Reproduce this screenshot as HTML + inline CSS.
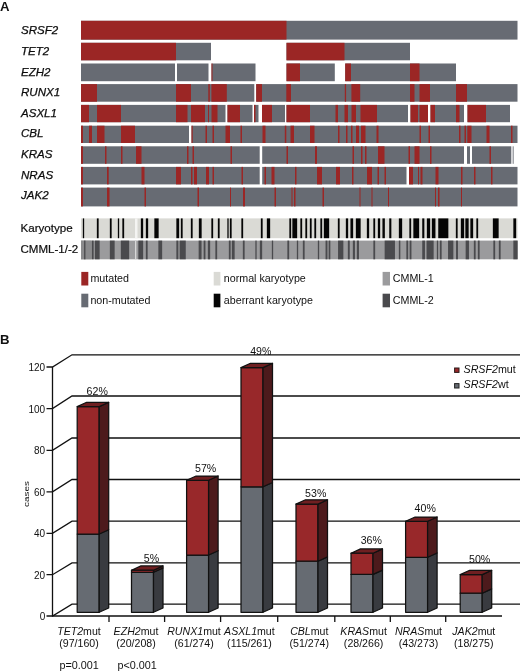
<!DOCTYPE html>
<html lang="en"><head><meta charset="utf-8"><title>Figure</title>
<style>
html,body{margin:0;padding:0;background:#fff}
svg{display:block;font-family:"Liberation Sans",sans-serif;fill:#111}
</style></head>
<body>
<svg width="520" height="671" viewBox="0 0 520 671">
<rect x="0" y="0" width="520" height="671" fill="#fff"/>
<g id="panelA">
<text x="0" y="10.6" font-size="13.2" text-anchor="start" font-weight="bold" >A</text>
<g class="row-SRSF2">
<rect x="81" y="20.8" width="436.5" height="18.8" fill="#676b73"/>
<rect x="81" y="20.8" width="205.5" height="18.8" fill="#9b2625"/>
<text x="21" y="34.3" font-size="11.55" text-anchor="start" font-style="italic" stroke="#000" stroke-width="0.25" >SRSF2</text>
</g>
<g class="row-TET2">
<rect x="81" y="42.8" width="130" height="17.5" fill="#676b73"/>
<rect x="286.5" y="42.8" width="123.5" height="17.5" fill="#676b73"/>
<rect x="81" y="42.8" width="95" height="17.5" fill="#9b2625"/>
<rect x="286.5" y="42.8" width="58" height="17.5" fill="#9b2625"/>
<text x="21" y="54.92" font-size="11.55" text-anchor="start" font-style="italic" stroke="#000" stroke-width="0.25" >TET2</text>
</g>
<g class="row-EZH2">
<rect x="81" y="63.5" width="94" height="17.7" fill="#676b73"/>
<rect x="177" y="63.5" width="31.5" height="17.7" fill="#676b73"/>
<rect x="211.5" y="63.5" width="44" height="17.7" fill="#676b73"/>
<rect x="286.5" y="63.5" width="48.3" height="17.7" fill="#676b73"/>
<rect x="345.2" y="63.5" width="110.8" height="17.7" fill="#676b73"/>
<rect x="211.5" y="63.5" width="1" height="17.7" fill="#9b2625"/>
<rect x="286.5" y="63.5" width="13.5" height="17.7" fill="#9b2625"/>
<rect x="345.2" y="63.5" width="5.8" height="17.7" fill="#9b2625"/>
<rect x="410" y="63.5" width="9.5" height="17.7" fill="#9b2625"/>
<text x="21" y="75.54" font-size="11.55" text-anchor="start" font-style="italic" stroke="#000" stroke-width="0.25" >EZH2</text>
</g>
<g class="row-RUNX1">
<rect x="81" y="84.1" width="173.3" height="17.6" fill="#676b73"/>
<rect x="256.2" y="84.1" width="261.3" height="17.6" fill="#676b73"/>
<rect x="81" y="84.1" width="16" height="17.6" fill="#9b2625"/>
<rect x="176" y="84.1" width="15" height="17.6" fill="#9b2625"/>
<rect x="208.3" y="84.1" width="1.5" height="17.6" fill="#9b2625"/>
<rect x="211.4" y="84.1" width="15.4" height="17.6" fill="#9b2625"/>
<rect x="256.2" y="84.1" width="5.8" height="17.6" fill="#9b2625"/>
<rect x="286.3" y="84.1" width="4.7" height="17.6" fill="#9b2625"/>
<rect x="344.8" y="84.1" width="1.3" height="17.6" fill="#9b2625"/>
<rect x="351.4" y="84.1" width="8.8" height="17.6" fill="#9b2625"/>
<rect x="410" y="84.1" width="4.5" height="17.6" fill="#9b2625"/>
<rect x="419.5" y="84.1" width="10.5" height="17.6" fill="#9b2625"/>
<rect x="456" y="84.1" width="11" height="17.6" fill="#9b2625"/>
<text x="21" y="96.16" font-size="11.55" text-anchor="start" font-style="italic" stroke="#000" stroke-width="0.25" >RUNX1</text>
</g>
<g class="row-ASXL1">
<rect x="81" y="104.9" width="144.5" height="17.3" fill="#676b73"/>
<rect x="227.5" y="104.9" width="25" height="17.3" fill="#676b73"/>
<rect x="254" y="104.9" width="4.5" height="17.3" fill="#676b73"/>
<rect x="262" y="104.9" width="23" height="17.3" fill="#676b73"/>
<rect x="286.5" y="104.9" width="121.5" height="17.3" fill="#676b73"/>
<rect x="410.5" y="104.9" width="17.5" height="17.3" fill="#676b73"/>
<rect x="430.5" y="104.9" width="33.5" height="17.3" fill="#676b73"/>
<rect x="467.5" y="104.9" width="42.5" height="17.3" fill="#676b73"/>
<rect x="81" y="104.9" width="8" height="17.3" fill="#9b2625"/>
<rect x="97" y="104.9" width="24" height="17.3" fill="#9b2625"/>
<rect x="176" y="104.9" width="11.5" height="17.3" fill="#9b2625"/>
<rect x="191" y="104.9" width="14" height="17.3" fill="#9b2625"/>
<rect x="208" y="104.9" width="1" height="17.3" fill="#9b2625"/>
<rect x="211.5" y="104.9" width="6" height="17.3" fill="#9b2625"/>
<rect x="227.5" y="104.9" width="12.5" height="17.3" fill="#9b2625"/>
<rect x="254" y="104.9" width="1.5" height="17.3" fill="#9b2625"/>
<rect x="262" y="104.9" width="10" height="17.3" fill="#9b2625"/>
<rect x="286.5" y="104.9" width="23.5" height="17.3" fill="#9b2625"/>
<rect x="335.5" y="104.9" width="2.5" height="17.3" fill="#9b2625"/>
<rect x="344.5" y="104.9" width="3.5" height="17.3" fill="#9b2625"/>
<rect x="351.5" y="104.9" width="4.5" height="17.3" fill="#9b2625"/>
<rect x="360.5" y="104.9" width="16.5" height="17.3" fill="#9b2625"/>
<rect x="410.5" y="104.9" width="7.5" height="17.3" fill="#9b2625"/>
<rect x="419.5" y="104.9" width="8.5" height="17.3" fill="#9b2625"/>
<rect x="430.5" y="104.9" width="4.5" height="17.3" fill="#9b2625"/>
<rect x="456" y="104.9" width="3.5" height="17.3" fill="#9b2625"/>
<rect x="467.5" y="104.9" width="18.5" height="17.3" fill="#9b2625"/>
<text x="21" y="116.78" font-size="11.55" text-anchor="start" font-style="italic" stroke="#000" stroke-width="0.25" >ASXL1</text>
</g>
<g class="row-CBL">
<rect x="81" y="125.7" width="108" height="17.3" fill="#676b73"/>
<rect x="191.5" y="125.7" width="326" height="17.3" fill="#676b73"/>
<rect x="81" y="125.7" width="2" height="17.3" fill="#9b2625"/>
<rect x="89" y="125.7" width="3" height="17.3" fill="#9b2625"/>
<rect x="97" y="125.7" width="7.5" height="17.3" fill="#9b2625"/>
<rect x="121" y="125.7" width="14" height="17.3" fill="#9b2625"/>
<rect x="191.5" y="125.7" width="1.2" height="17.3" fill="#9b2625"/>
<rect x="205.5" y="125.7" width="1.5" height="17.3" fill="#9b2625"/>
<rect x="212.5" y="125.7" width="1.5" height="17.3" fill="#9b2625"/>
<rect x="225.5" y="125.7" width="4.5" height="17.3" fill="#9b2625"/>
<rect x="240.5" y="125.7" width="1.5" height="17.3" fill="#9b2625"/>
<rect x="262.5" y="125.7" width="3" height="17.3" fill="#9b2625"/>
<rect x="284.8" y="125.7" width="1.5" height="17.3" fill="#9b2625"/>
<rect x="290.5" y="125.7" width="3.5" height="17.3" fill="#9b2625"/>
<rect x="310" y="125.7" width="4.5" height="17.3" fill="#9b2625"/>
<rect x="338" y="125.7" width="1.5" height="17.3" fill="#9b2625"/>
<rect x="346" y="125.7" width="1.5" height="17.3" fill="#9b2625"/>
<rect x="351" y="125.7" width="1.5" height="17.3" fill="#9b2625"/>
<rect x="356" y="125.7" width="3" height="17.3" fill="#9b2625"/>
<rect x="361" y="125.7" width="4.5" height="17.3" fill="#9b2625"/>
<rect x="376.5" y="125.7" width="2" height="17.3" fill="#9b2625"/>
<rect x="419.5" y="125.7" width="1.5" height="17.3" fill="#9b2625"/>
<rect x="428.5" y="125.7" width="1.5" height="17.3" fill="#9b2625"/>
<rect x="459" y="125.7" width="1.5" height="17.3" fill="#9b2625"/>
<rect x="464.5" y="125.7" width="1.5" height="17.3" fill="#9b2625"/>
<rect x="467.3" y="125.7" width="4.2" height="17.3" fill="#9b2625"/>
<rect x="486.5" y="125.7" width="3" height="17.3" fill="#9b2625"/>
<rect x="511" y="125.7" width="1.5" height="17.3" fill="#9b2625"/>
<text x="21" y="137.4" font-size="11.55" text-anchor="start" font-style="italic" stroke="#000" stroke-width="0.25" >CBL</text>
</g>
<g class="row-KRAS">
<rect x="81" y="146.3" width="178.7" height="17.5" fill="#676b73"/>
<rect x="262.2" y="146.3" width="201.8" height="17.5" fill="#676b73"/>
<rect x="467" y="146.3" width="3" height="17.5" fill="#676b73"/>
<rect x="472" y="146.3" width="39.3" height="17.5" fill="#676b73"/>
<rect x="512.7" y="146.3" width="0.9" height="17.5" fill="#676b73"/>
<rect x="81" y="146.3" width="2" height="17.5" fill="#9b2625"/>
<rect x="105" y="146.3" width="1.5" height="17.5" fill="#9b2625"/>
<rect x="121" y="146.3" width="1.5" height="17.5" fill="#9b2625"/>
<rect x="136" y="146.3" width="5.5" height="17.5" fill="#9b2625"/>
<rect x="187" y="146.3" width="1.5" height="17.5" fill="#9b2625"/>
<rect x="192.5" y="146.3" width="1.5" height="17.5" fill="#9b2625"/>
<rect x="230.5" y="146.3" width="1.5" height="17.5" fill="#9b2625"/>
<rect x="286.5" y="146.3" width="1.5" height="17.5" fill="#9b2625"/>
<rect x="315" y="146.3" width="2" height="17.5" fill="#9b2625"/>
<rect x="352.5" y="146.3" width="1.5" height="17.5" fill="#9b2625"/>
<rect x="361" y="146.3" width="1.5" height="17.5" fill="#9b2625"/>
<rect x="365" y="146.3" width="1.5" height="17.5" fill="#9b2625"/>
<rect x="378" y="146.3" width="6.5" height="17.5" fill="#9b2625"/>
<rect x="408.5" y="146.3" width="1.5" height="17.5" fill="#9b2625"/>
<rect x="414.5" y="146.3" width="5" height="17.5" fill="#9b2625"/>
<rect x="430" y="146.3" width="1.5" height="17.5" fill="#9b2625"/>
<rect x="489.5" y="146.3" width="1.5" height="17.5" fill="#9b2625"/>
<text x="21" y="158.02" font-size="11.55" text-anchor="start" font-style="italic" stroke="#000" stroke-width="0.25" >KRAS</text>
</g>
<g class="row-NRAS">
<rect x="81" y="166.9" width="178.7" height="17.5" fill="#676b73"/>
<rect x="262.2" y="166.9" width="144.3" height="17.5" fill="#676b73"/>
<rect x="409" y="166.9" width="108.5" height="17.5" fill="#676b73"/>
<rect x="81" y="166.9" width="2" height="17.5" fill="#9b2625"/>
<rect x="107" y="166.9" width="1.7" height="17.5" fill="#9b2625"/>
<rect x="141.5" y="166.9" width="3" height="17.5" fill="#9b2625"/>
<rect x="176" y="166.9" width="5" height="17.5" fill="#9b2625"/>
<rect x="191" y="166.9" width="1.5" height="17.5" fill="#9b2625"/>
<rect x="194" y="166.9" width="3" height="17.5" fill="#9b2625"/>
<rect x="206" y="166.9" width="3" height="17.5" fill="#9b2625"/>
<rect x="212.5" y="166.9" width="1.5" height="17.5" fill="#9b2625"/>
<rect x="241.5" y="166.9" width="1.5" height="17.5" fill="#9b2625"/>
<rect x="264.5" y="166.9" width="1.5" height="17.5" fill="#9b2625"/>
<rect x="271.5" y="166.9" width="3" height="17.5" fill="#9b2625"/>
<rect x="295" y="166.9" width="1.5" height="17.5" fill="#9b2625"/>
<rect x="317" y="166.9" width="5" height="17.5" fill="#9b2625"/>
<rect x="336" y="166.9" width="4" height="17.5" fill="#9b2625"/>
<rect x="352" y="166.9" width="1.5" height="17.5" fill="#9b2625"/>
<rect x="367" y="166.9" width="5" height="17.5" fill="#9b2625"/>
<rect x="377.5" y="166.9" width="1.5" height="17.5" fill="#9b2625"/>
<rect x="384.5" y="166.9" width="1.5" height="17.5" fill="#9b2625"/>
<rect x="409" y="166.9" width="4" height="17.5" fill="#9b2625"/>
<rect x="418" y="166.9" width="1" height="17.5" fill="#9b2625"/>
<rect x="420.5" y="166.9" width="2" height="17.5" fill="#9b2625"/>
<rect x="435.5" y="166.9" width="3" height="17.5" fill="#9b2625"/>
<rect x="461" y="166.9" width="1.5" height="17.5" fill="#9b2625"/>
<rect x="474" y="166.9" width="1.5" height="17.5" fill="#9b2625"/>
<rect x="491" y="166.9" width="1.5" height="17.5" fill="#9b2625"/>
<text x="21" y="178.64" font-size="11.55" text-anchor="start" font-style="italic" stroke="#000" stroke-width="0.25" >NRAS</text>
</g>
<g class="row-JAK2">
<rect x="81" y="187.6" width="436.5" height="18.8" fill="#676b73"/>
<rect x="81" y="187.6" width="2" height="18.8" fill="#9b2625"/>
<rect x="107" y="187.6" width="2.5" height="18.8" fill="#9b2625"/>
<rect x="144.5" y="187.6" width="1.5" height="18.8" fill="#9b2625"/>
<rect x="197.5" y="187.6" width="1.5" height="18.8" fill="#9b2625"/>
<rect x="230" y="187.6" width="1" height="18.8" fill="#9b2625"/>
<rect x="243" y="187.6" width="2" height="18.8" fill="#9b2625"/>
<rect x="274.5" y="187.6" width="1.5" height="18.8" fill="#9b2625"/>
<rect x="291.5" y="187.6" width="1" height="18.8" fill="#9b2625"/>
<rect x="294" y="187.6" width="1.5" height="18.8" fill="#9b2625"/>
<rect x="322.5" y="187.6" width="1.5" height="18.8" fill="#9b2625"/>
<rect x="359.5" y="187.6" width="1" height="18.8" fill="#9b2625"/>
<rect x="371.5" y="187.6" width="1" height="18.8" fill="#9b2625"/>
<rect x="388" y="187.6" width="1" height="18.8" fill="#9b2625"/>
<rect x="435" y="187.6" width="1" height="18.8" fill="#9b2625"/>
<rect x="438" y="187.6" width="1.5" height="18.8" fill="#9b2625"/>
<rect x="461" y="187.6" width="1" height="18.8" fill="#9b2625"/>
<text x="21" y="199.26" font-size="11.55" text-anchor="start" font-style="italic" stroke="#000" stroke-width="0.25" >JAK2</text>
</g>
<g class="kary">
<rect x="81" y="218.4" width="436.5" height="19.8" fill="#dadad5"/>
<rect x="135" y="218.4" width="2.5" height="19.8" fill="#f4f4f2"/>
<rect x="82.85" y="218.4" width="1.3" height="19.8" fill="#050505"/>
<rect x="96.85" y="218.4" width="1.8" height="19.8" fill="#050505"/>
<rect x="109.85" y="218.4" width="1.8" height="19.8" fill="#050505"/>
<rect x="117.85" y="218.4" width="1.3" height="19.8" fill="#050505"/>
<rect x="122.35" y="218.4" width="1.8" height="19.8" fill="#050505"/>
<rect x="140.85" y="218.4" width="2.3" height="19.8" fill="#050505"/>
<rect x="145.85" y="218.4" width="2.3" height="19.8" fill="#050505"/>
<rect x="154.35" y="218.4" width="4.3" height="19.8" fill="#050505"/>
<rect x="176.35" y="218.4" width="2.8" height="19.8" fill="#050505"/>
<rect x="180.85" y="218.4" width="1.8" height="19.8" fill="#050505"/>
<rect x="190.85" y="218.4" width="1.8" height="19.8" fill="#050505"/>
<rect x="198.85" y="218.4" width="2.8" height="19.8" fill="#050505"/>
<rect x="211.35" y="218.4" width="1.8" height="19.8" fill="#050505"/>
<rect x="217.85" y="218.4" width="1.8" height="19.8" fill="#050505"/>
<rect x="227.35" y="218.4" width="1.3" height="19.8" fill="#050505"/>
<rect x="229.85" y="218.4" width="1.8" height="19.8" fill="#050505"/>
<rect x="241.35" y="218.4" width="1.8" height="19.8" fill="#050505"/>
<rect x="260.85" y="218.4" width="1.8" height="19.8" fill="#050505"/>
<rect x="266.85" y="218.4" width="3.3" height="19.8" fill="#050505"/>
<rect x="289.35" y="218.4" width="1.8" height="19.8" fill="#050505"/>
<rect x="292.35" y="218.4" width="4.8" height="19.8" fill="#050505"/>
<rect x="300.35" y="218.4" width="1.8" height="19.8" fill="#050505"/>
<rect x="305.35" y="218.4" width="1.8" height="19.8" fill="#050505"/>
<rect x="309.85" y="218.4" width="1.8" height="19.8" fill="#050505"/>
<rect x="314.35" y="218.4" width="1.8" height="19.8" fill="#050505"/>
<rect x="320.35" y="218.4" width="1.8" height="19.8" fill="#050505"/>
<rect x="323.85" y="218.4" width="5.3" height="19.8" fill="#050505"/>
<rect x="337.85" y="218.4" width="1.8" height="19.8" fill="#050505"/>
<rect x="345.85" y="218.4" width="2.3" height="19.8" fill="#050505"/>
<rect x="350.45" y="218.4" width="2.7" height="19.8" fill="#050505"/>
<rect x="355.85" y="218.4" width="4.8" height="19.8" fill="#050505"/>
<rect x="366.85" y="218.4" width="2.3" height="19.8" fill="#050505"/>
<rect x="373.35" y="218.4" width="1.8" height="19.8" fill="#050505"/>
<rect x="377.85" y="218.4" width="2.3" height="19.8" fill="#050505"/>
<rect x="382.45" y="218.4" width="2.4" height="19.8" fill="#050505"/>
<rect x="389.25" y="218.4" width="2.1" height="19.8" fill="#050505"/>
<rect x="398.85" y="218.4" width="3.3" height="19.8" fill="#050505"/>
<rect x="409.35" y="218.4" width="1.8" height="19.8" fill="#050505"/>
<rect x="413.35" y="218.4" width="5.8" height="19.8" fill="#050505"/>
<rect x="422.25" y="218.4" width="2.1" height="19.8" fill="#050505"/>
<rect x="426.85" y="218.4" width="3.3" height="19.8" fill="#050505"/>
<rect x="431.85" y="218.4" width="3.6" height="19.8" fill="#050505"/>
<rect x="438.25" y="218.4" width="10.1" height="19.8" fill="#050505"/>
<rect x="455.85" y="218.4" width="1.8" height="19.8" fill="#050505"/>
<rect x="460.85" y="218.4" width="3.3" height="19.8" fill="#050505"/>
<rect x="465.35" y="218.4" width="3.3" height="19.8" fill="#050505"/>
<rect x="470.35" y="218.4" width="2.8" height="19.8" fill="#050505"/>
<rect x="476.35" y="218.4" width="1.8" height="19.8" fill="#050505"/>
<rect x="492.85" y="218.4" width="5.8" height="19.8" fill="#050505"/>
<rect x="513.35" y="218.4" width="2.8" height="19.8" fill="#050505"/>
<text x="20.5" y="231.8" font-size="11.6" text-anchor="start" stroke="#000" stroke-width="0.2" >Karyotype</text>
</g>
<g class="cmml">
<rect x="81" y="240.6" width="436.5" height="18.7" fill="#9b9b9d"/>
<rect x="135" y="240.6" width="1.3" height="18.7" fill="#d8d8d8"/>
<rect x="81" y="240.6" width="10.5" height="18.7" fill="#8a8a8c"/>
<rect x="84" y="240.6" width="1.5" height="18.7" fill="#505053"/>
<rect x="91.85" y="240.6" width="1.8" height="18.7" fill="#4a4a4d"/>
<rect x="94.85" y="240.6" width="4.8" height="18.7" fill="#4a4a4d"/>
<rect x="109.85" y="240.6" width="4.8" height="18.7" fill="#4a4a4d"/>
<rect x="120.85" y="240.6" width="8.3" height="18.7" fill="#4a4a4d"/>
<rect x="138.35" y="240.6" width="4.8" height="18.7" fill="#4a4a4d"/>
<rect x="145.85" y="240.6" width="1.8" height="18.7" fill="#4a4a4d"/>
<rect x="158.35" y="240.6" width="3.8" height="18.7" fill="#4a4a4d"/>
<rect x="176.35" y="240.6" width="2" height="18.7" fill="#4a4a4d"/>
<rect x="179.65" y="240.6" width="6.1" height="18.7" fill="#4a4a4d"/>
<rect x="198.65" y="240.6" width="2.9" height="18.7" fill="#4a4a4d"/>
<rect x="203.65" y="240.6" width="1.8" height="18.7" fill="#4a4a4d"/>
<rect x="207.85" y="240.6" width="2.3" height="18.7" fill="#4a4a4d"/>
<rect x="215.35" y="240.6" width="1.8" height="18.7" fill="#4a4a4d"/>
<rect x="228.85" y="240.6" width="1.8" height="18.7" fill="#4a4a4d"/>
<rect x="231.85" y="240.6" width="2.8" height="18.7" fill="#4a4a4d"/>
<rect x="242.85" y="240.6" width="1.8" height="18.7" fill="#4a4a4d"/>
<rect x="255.35" y="240.6" width="1.3" height="18.7" fill="#4a4a4d"/>
<rect x="259.85" y="240.6" width="2.3" height="18.7" fill="#4a4a4d"/>
<rect x="271.85" y="240.6" width="1.3" height="18.7" fill="#4a4a4d"/>
<rect x="287.35" y="240.6" width="1.8" height="18.7" fill="#4a4a4d"/>
<rect x="296.85" y="240.6" width="1.3" height="18.7" fill="#4a4a4d"/>
<rect x="302.85" y="240.6" width="1.8" height="18.7" fill="#4a4a4d"/>
<rect x="317.85" y="240.6" width="1.3" height="18.7" fill="#4a4a4d"/>
<rect x="325.55" y="240.6" width="1.9" height="18.7" fill="#4a4a4d"/>
<rect x="328.65" y="240.6" width="1.7" height="18.7" fill="#4a4a4d"/>
<rect x="338.05" y="240.6" width="5.3" height="18.7" fill="#4a4a4d"/>
<rect x="347.85" y="240.6" width="1.9" height="18.7" fill="#4a4a4d"/>
<rect x="352.85" y="240.6" width="2.1" height="18.7" fill="#4a4a4d"/>
<rect x="356.85" y="240.6" width="2.1" height="18.7" fill="#4a4a4d"/>
<rect x="373.35" y="240.6" width="1.8" height="18.7" fill="#4a4a4d"/>
<rect x="384.65" y="240.6" width="10.3" height="18.7" fill="#4a4a4d"/>
<rect x="398.85" y="240.6" width="1.5" height="18.7" fill="#4a4a4d"/>
<rect x="406.35" y="240.6" width="1.8" height="18.7" fill="#4a4a4d"/>
<rect x="409.65" y="240.6" width="1.8" height="18.7" fill="#4a4a4d"/>
<rect x="422.25" y="240.6" width="2.7" height="18.7" fill="#4a4a4d"/>
<rect x="426.55" y="240.6" width="7.1" height="18.7" fill="#4a4a4d"/>
<rect x="436.85" y="240.6" width="1.3" height="18.7" fill="#4a4a4d"/>
<rect x="439.85" y="240.6" width="1.8" height="18.7" fill="#4a4a4d"/>
<rect x="448.05" y="240.6" width="5.3" height="18.7" fill="#4a4a4d"/>
<rect x="456.05" y="240.6" width="1.9" height="18.7" fill="#4a4a4d"/>
<rect x="465.65" y="240.6" width="3.3" height="18.7" fill="#4a4a4d"/>
<rect x="473.85" y="240.6" width="1.8" height="18.7" fill="#4a4a4d"/>
<rect x="477.85" y="240.6" width="1.8" height="18.7" fill="#4a4a4d"/>
<rect x="493.35" y="240.6" width="1.8" height="18.7" fill="#4a4a4d"/>
<rect x="498.85" y="240.6" width="1.8" height="18.7" fill="#4a4a4d"/>
<rect x="513.35" y="240.6" width="4.3" height="18.7" fill="#4a4a4d"/>
<text x="20.5" y="253.3" font-size="11.55" text-anchor="start" stroke="#000" stroke-width="0.2" >CMML-1/-2</text>
</g>
<rect x="81.3" y="271.9" width="7" height="13.6" fill="#9b2625"/>
<text x="90.4" y="282.3" font-size="10.7" text-anchor="start" >mutated</text>
<rect x="81.3" y="293.7" width="7" height="13.6" fill="#676b73"/>
<text x="90.4" y="304.1" font-size="10.7" text-anchor="start" >non-mutated</text>
<rect x="213.7" y="271.9" width="6.7" height="13.6" fill="#dadad5"/>
<text x="223.8" y="282.3" font-size="10.7" text-anchor="start" >normal karyotype</text>
<rect x="213.7" y="293.7" width="6.7" height="13.6" fill="#050505"/>
<text x="223.8" y="304.1" font-size="10.7" text-anchor="start" >aberrant karyotype</text>
<rect x="382.6" y="271.9" width="7.4" height="13.6" fill="#9b9b9d"/>
<text x="392.8" y="282.3" font-size="10.7" text-anchor="start" >CMML-1</text>
<rect x="382.6" y="293.7" width="7.4" height="13.6" fill="#4a4a4d"/>
<text x="392.8" y="304.1" font-size="10.7" text-anchor="start" >CMML-2</text>
</g>
<g id="panelB">
<text x="0" y="344" font-size="13.2" text-anchor="start" font-weight="bold" >B</text>
<g stroke="#111" stroke-width="1.3" fill="none">
<path d="M52.5 367V616H502"/>
<path d="M46.5 616H52.5L72.0 604.2H520"/>
<path d="M46.5 574.7H52.5L72.0 562.9H520"/>
<path d="M46.5 533.3H52.5L72.0 521.1H520"/>
<path d="M46.5 491.9H52.5L72.0 479.5H520"/>
<path d="M46.5 450.3H52.5L72.0 438H520"/>
<path d="M46.5 408.6H52.5L72.0 396H520"/>
<path d="M46.5 367H52.5L72.0 354.8H520"/>
<path d="M109 616v6"/>
<path d="M164.6 616v6"/>
<path d="M220.6 616v6"/>
<path d="M277.7 616v6"/>
<path d="M334.8 616v6"/>
<path d="M390.3 616v6"/>
<path d="M445.7 616v6"/>
</g>
<text x="45.2" y="620" font-size="10" text-anchor="end" >0</text>
<text x="45.2" y="578.7" font-size="10" text-anchor="end" >20</text>
<text x="45.2" y="537.3" font-size="10" text-anchor="end" >40</text>
<text x="45.2" y="495.9" font-size="10" text-anchor="end" >60</text>
<text x="45.2" y="454.3" font-size="10" text-anchor="end" >80</text>
<text x="45.2" y="412.6" font-size="10" text-anchor="end" >100</text>
<text x="45.2" y="371" font-size="10" text-anchor="end" >120</text>
<text transform="translate(28.7 494) rotate(-90) scale(1.22 1)" font-size="8.1" text-anchor="middle">cases</text>
<g class="bar-TET2" stroke="#111" stroke-width="1.25" stroke-linejoin="round">
<path d="M77.2 534H99.2V612.3H77.2Z" fill="#666b72"/>
<path d="M99.2 534l9.5 -4.3V608.0l-9.5 4.3Z" fill="#393b40"/>
<path d="M77.2 406.6H99.2V534H77.2Z" fill="#98282a"/>
<path d="M99.2 406.6l9.5 -4.3V529.7l-9.5 4.3Z" fill="#4d1a1c"/>
<path d="M77.2 406.6l9.5 -4.3h22l-9.5 4.3Z" fill="#6f1f21"/>
</g>
<text x="97.2" y="395.2" font-size="10.6" text-anchor="middle" >62%</text>
<text x="79" y="634.8" font-size="10.6" text-anchor="middle"><tspan font-style="italic">TET2</tspan>mut</text>
<text x="79" y="646.8" font-size="10.6" text-anchor="middle" >(97/160)</text>
<g class="bar-EZH2" stroke="#111" stroke-width="1.25" stroke-linejoin="round">
<path d="M131.5 572.3H153.5V612.3H131.5Z" fill="#666b72"/>
<path d="M153.5 572.3l9.5 -4.3V608.0l-9.5 4.3Z" fill="#393b40"/>
<path d="M131.5 570.2H153.5V572.3H131.5Z" fill="#98282a"/>
<path d="M153.5 570.2l9.5 -4.3V568.0l-9.5 4.3Z" fill="#4d1a1c"/>
<path d="M131.5 570.2l9.5 -4.3h22l-9.5 4.3Z" fill="#6f1f21"/>
</g>
<text x="151.5" y="561.5" font-size="10.6" text-anchor="middle" >5%</text>
<text x="136" y="634.8" font-size="10.6" text-anchor="middle"><tspan font-style="italic">EZH2</tspan>mut</text>
<text x="136" y="646.8" font-size="10.6" text-anchor="middle" >(20/208)</text>
<g class="bar-RUNX1" stroke="#111" stroke-width="1.25" stroke-linejoin="round">
<path d="M186.6 555H208.6V612.3H186.6Z" fill="#666b72"/>
<path d="M208.6 555l9.5 -4.3V608.0l-9.5 4.3Z" fill="#393b40"/>
<path d="M186.6 480.3H208.6V555H186.6Z" fill="#98282a"/>
<path d="M208.6 480.3l9.5 -4.3V550.7l-9.5 4.3Z" fill="#4d1a1c"/>
<path d="M186.6 480.3l9.5 -4.3h22l-9.5 4.3Z" fill="#6f1f21"/>
</g>
<text x="205.6" y="472.3" font-size="10.6" text-anchor="middle" >57%</text>
<text x="194" y="634.8" font-size="10.6" text-anchor="middle"><tspan font-style="italic">RUNX1</tspan>mut</text>
<text x="194" y="646.8" font-size="10.6" text-anchor="middle" >(61/274)</text>
<g class="bar-ASXL1" stroke="#111" stroke-width="1.25" stroke-linejoin="round">
<path d="M241 486.8H263V612.3H241Z" fill="#666b72"/>
<path d="M263 486.8l9.5 -4.3V608.0l-9.5 4.3Z" fill="#393b40"/>
<path d="M241 367.6H263V486.8H241Z" fill="#98282a"/>
<path d="M263 367.6l9.5 -4.3V482.5l-9.5 4.3Z" fill="#4d1a1c"/>
<path d="M241 367.6l9.5 -4.3h22l-9.5 4.3Z" fill="#6f1f21"/>
</g>
<text x="260.8" y="355" font-size="10.6" text-anchor="middle" >49%</text>
<text x="249.4" y="634.8" font-size="10.6" text-anchor="middle"><tspan font-style="italic">ASXL1</tspan>mut</text>
<text x="249.4" y="646.8" font-size="10.6" text-anchor="middle" >(115/261)</text>
<g class="bar-CBL" stroke="#111" stroke-width="1.25" stroke-linejoin="round">
<path d="M296 561.2H318V612.3H296Z" fill="#666b72"/>
<path d="M318 561.2l9.5 -4.3V608.0l-9.5 4.3Z" fill="#393b40"/>
<path d="M296 504.1H318V561.2H296Z" fill="#98282a"/>
<path d="M318 504.1l9.5 -4.3V556.9000000000001l-9.5 4.3Z" fill="#4d1a1c"/>
<path d="M296 504.1l9.5 -4.3h22l-9.5 4.3Z" fill="#6f1f21"/>
</g>
<text x="315.7" y="496.5" font-size="10.6" text-anchor="middle" >53%</text>
<text x="309.3" y="634.8" font-size="10.6" text-anchor="middle"><tspan font-style="italic">CBL</tspan>mut</text>
<text x="309.3" y="646.8" font-size="10.6" text-anchor="middle" >(51/274)</text>
<g class="bar-KRAS" stroke="#111" stroke-width="1.25" stroke-linejoin="round">
<path d="M351 574.4H373V612.3H351Z" fill="#666b72"/>
<path d="M373 574.4l9.5 -4.3V608.0l-9.5 4.3Z" fill="#393b40"/>
<path d="M351 553.2H373V574.4H351Z" fill="#98282a"/>
<path d="M373 553.2l9.5 -4.3V570.1l-9.5 4.3Z" fill="#4d1a1c"/>
<path d="M351 553.2l9.5 -4.3h22l-9.5 4.3Z" fill="#6f1f21"/>
</g>
<text x="371.3" y="544.3" font-size="10.6" text-anchor="middle" >36%</text>
<text x="363.6" y="634.8" font-size="10.6" text-anchor="middle"><tspan font-style="italic">KRAS</tspan>mut</text>
<text x="363.6" y="646.8" font-size="10.6" text-anchor="middle" >(28/266)</text>
<g class="bar-NRAS" stroke="#111" stroke-width="1.25" stroke-linejoin="round">
<path d="M405.6 557.3H427.6V612.3H405.6Z" fill="#666b72"/>
<path d="M427.6 557.3l9.5 -4.3V608.0l-9.5 4.3Z" fill="#393b40"/>
<path d="M405.6 521.3H427.6V557.3H405.6Z" fill="#98282a"/>
<path d="M427.6 521.3l9.5 -4.3V553.0l-9.5 4.3Z" fill="#4d1a1c"/>
<path d="M405.6 521.3l9.5 -4.3h22l-9.5 4.3Z" fill="#6f1f21"/>
</g>
<text x="425.2" y="512.4" font-size="10.6" text-anchor="middle" >40%</text>
<text x="418.5" y="634.8" font-size="10.6" text-anchor="middle"><tspan font-style="italic">NRAS</tspan>mut</text>
<text x="418.5" y="646.8" font-size="10.6" text-anchor="middle" >(43/273)</text>
<g class="bar-JAK2" stroke="#111" stroke-width="1.25" stroke-linejoin="round">
<path d="M460.2 593.2H482.2V612.3H460.2Z" fill="#666b72"/>
<path d="M482.2 593.2l9.5 -4.3V608.0l-9.5 4.3Z" fill="#393b40"/>
<path d="M460.2 574.6H482.2V593.2H460.2Z" fill="#98282a"/>
<path d="M482.2 574.6l9.5 -4.3V588.9000000000001l-9.5 4.3Z" fill="#4d1a1c"/>
<path d="M460.2 574.6l9.5 -4.3h22l-9.5 4.3Z" fill="#6f1f21"/>
</g>
<text x="479.6" y="562.8" font-size="10.6" text-anchor="middle" >50%</text>
<text x="473.8" y="634.8" font-size="10.6" text-anchor="middle"><tspan font-style="italic">JAK2</tspan>mut</text>
<text x="473.8" y="646.8" font-size="10.6" text-anchor="middle" >(18/275)</text>
<text x="59.5" y="668.5" font-size="10.8" text-anchor="start" >p=0.001</text>
<text x="117.5" y="668.5" font-size="10.8" text-anchor="start" >p&lt;0.001</text>
<rect x="454.6" y="368" width="4.4" height="4.4" fill="#98282a" stroke="#2a1a1a" stroke-width="1"/>
<text x="463.5" y="372.8" font-size="10.7"><tspan font-style="italic">SRSF2</tspan>mut</text>
<rect x="454.6" y="383.6" width="4.4" height="4.4" fill="#666b72" stroke="#222" stroke-width="1"/>
<text x="463.5" y="388" font-size="10.7"><tspan font-style="italic">SRSF2</tspan>wt</text>
</g>
</svg>
</body></html>
